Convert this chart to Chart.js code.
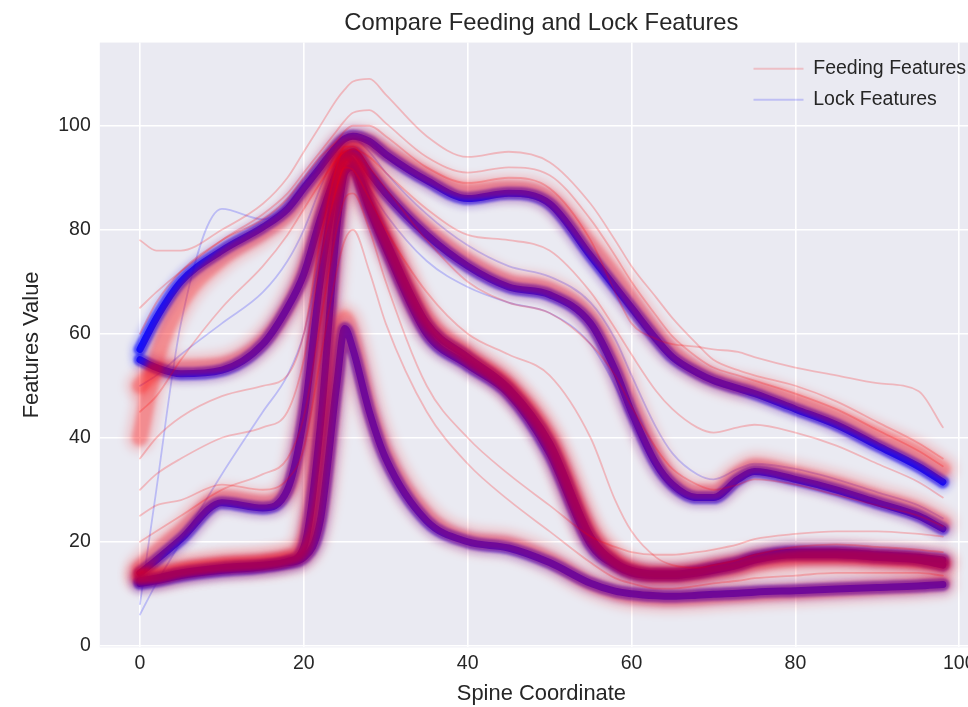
<!DOCTYPE html>
<html>
<head>
<meta charset="utf-8">
<script src="https://cdn.jsdelivr.net/npm/chart.js@4.4.0/dist/chart.umd.min.js"></script>
<style>
  html, body { margin: 0; padding: 0; background: #fff; overflow: hidden; }
</style>
</head>
<body>
<canvas id="featureChart" width="1000" height="707"></canvas>
<script>
// spine coordinate of every sample
const spineCoords = [0, 2, 5, 10, 15, 18, 20, 22, 24, 25, 26, 28, 30, 35, 40, 45, 50, 55, 58, 60, 63, 65, 68, 70, 73, 75, 80, 85, 90, 95, 98];

// lock features (blue bundles)
const lockUpper = [57, 63, 70, 76, 80.5, 84, 88, 92, 96, 97.5, 98, 97, 94.5, 89.5, 86, 87, 85, 75, 69, 65, 59, 55.5, 52.5, 51, 49.5, 48.5, 45.5, 42.5, 38.5, 34.5, 31.5];
const lockDip = [55, 53.5, 52.3, 53, 58, 65, 71.5, 82, 91, 94, 95, 91, 87, 79, 73, 69, 67.5, 62, 53, 45, 35, 31, 28.5, 28.5, 32, 33.5, 32, 30, 27.5, 25, 22.5];
const lockHump = [14, 16.5, 20.5, 27.5, 26.5, 30, 44, 70, 89, 94, 93, 84, 76.5, 60, 54, 48.5, 37, 19.5, 15.5, 14, 13.5, 13.5, 14, 14.5, 15.5, 16.5, 17.5, 17.5, 17, 16.5, 15.5];
const lockLow = [12, 12.5, 13.5, 14.5, 15.2, 16.2, 19, 42, 80, 91, 92, 85, 78, 62, 55.5, 49.5, 39, 21, 16, 14.5, 13.8, 13.8, 14.3, 15, 16, 17, 18, 18, 17.5, 17, 16.5];
const lockPeak = [12.5, 13, 14, 15, 15.5, 16, 17, 24, 50, 61, 57, 45, 36, 24, 20, 18.8, 16, 12, 10.5, 10, 9.6, 9.5, 9.7, 9.9, 10.1, 10.3, 10.6, 10.9, 11.2, 11.5, 11.8];
const lockStray1 = [8, 30, 62, 84, 82, 85, 89, 92, 96, 97, 97.5, 97, 94, 89, 85.5, 86.5, 84.5, 74, 68, 64, 58, 55, 52, 50.5, 49, 48, 45, 42, 38, 34, 31];
const lockStray2 = [6, 12, 20, 33, 45, 52, 60, 75, 89, 93, 93, 88, 83, 74, 69, 66, 64, 58, 50, 43, 34, 30, 28, 28, 31.5, 33, 31.5, 29.5, 27, 24.5, 22];
const lockStray3 = [50, 52, 56, 62, 68, 74, 80, 88, 95, 97, 97.5, 95, 91, 83, 77, 73, 71, 66, 59, 52, 42, 37, 33, 32, 34, 35, 34, 32, 29.5, 27, 24.5];

// feeding features (red bundles)
const feedUpper = [40, 55, 66, 74.5, 79.5, 83, 87, 91, 95.5, 97, 97.5, 97, 95, 90.5, 87.5, 88, 86, 77, 71, 66.5, 60, 56.5, 53, 51.5, 50, 49.5, 47, 44, 40.5, 37, 34];
const feedDip = [50, 53, 53.5, 54, 58.5, 65, 72, 82.5, 91.5, 94.5, 95.5, 92, 88, 80, 74, 70, 68.5, 63, 54.5, 46.5, 36.5, 32, 29.5, 29.5, 33, 34.5, 33, 31, 28.5, 26, 23.5];
const feedHump = [15, 18, 22, 28.5, 27.5, 30, 43, 70, 89.5, 94, 93.5, 85, 77.5, 61, 55, 49.5, 38.5, 20.5, 16, 14.3, 13.5, 13.5, 13.8, 14.2, 15, 15.8, 16.8, 17, 16.8, 16.4, 15.8];
const feedLow = [13.5, 13.5, 14.5, 15.5, 16, 17, 20, 44, 81, 91.5, 92.5, 86, 79, 63, 56, 50, 40, 22, 16.5, 14.8, 14, 14, 14.5, 15.2, 16, 16.8, 17.5, 17.5, 17, 16.5, 16];
const feedPeak = [13, 13.5, 14.5, 15.5, 16, 16.5, 17.5, 26, 52, 63, 59, 46, 37, 25, 20.5, 19.5, 16.5, 12, 10.3, 9.6, 9.2, 9.1, 9.3, 9.5, 9.8, 10, 10.4, 10.8, 11.2, 11.6, 12];
const feedTop = [78, 76, 76, 80, 85, 90, 95, 100, 105, 107, 108.5, 109, 106, 98, 94, 95, 93, 85, 78, 73, 67, 63, 58, 55, 53, 52, 50, 47, 43, 39, 36];
const feedHigh = [65, 68, 72, 78, 83, 87, 91, 95, 99, 101, 102.5, 103, 100.5, 94, 91, 92, 90.5, 82, 75, 70, 63.5, 59.5, 55.5, 53.5, 52, 51, 48.5, 45.5, 41.5, 37.5, 34.5];
const feedMid = [45, 48, 55, 65, 73, 79, 84, 89, 93.5, 95, 95.5, 94, 91, 84, 79, 78, 76, 68, 61, 56, 49, 45.5, 42, 41, 42, 42.5, 41, 38.5, 35, 31.5, 28.5];
const feedSag = [30, 33, 36, 40, 42, 45, 55, 74, 88, 92, 91.5, 86, 80, 68, 60, 56, 52, 40, 28, 22, 17, 15.5, 15, 15.5, 16.5, 17.5, 19, 19.5, 19, 18.5, 18];
const feedLoose = [20, 22, 25, 30, 33, 36, 44, 62, 80, 86, 87, 80, 70, 50, 40, 33, 27, 21, 19, 18, 17.5, 17.5, 18, 18.5, 19.5, 20.5, 21.5, 22, 22, 21.5, 21];
const feedStray = [60, 66, 72, 78, 82, 86, 90, 94, 97, 99, 100, 100, 98, 92, 89, 90, 88, 78, 68, 62, 59, 58, 57.5, 57, 56.5, 55.5, 53.5, 52, 50.5, 49, 42];
const feedDrift = [36, 40, 44, 48, 50, 52, 60, 78, 92, 96, 96, 92, 88, 78, 70, 66, 64, 58, 52, 46, 38, 34, 31, 30, 31, 32, 31, 29, 27, 25, 23];
const feedDrop = [25, 27, 28, 31, 30, 32, 38, 55, 72, 78, 80, 72, 62, 45, 35, 28, 22, 16, 13, 12, 11, 11, 11.5, 12, 12.5, 13, 13.5, 14, 14, 14, 13.5];

const xTicks = [0, 20, 40, 60, 80, 100];
const yTicks = [0, 20, 40, 60, 80, 100];

const feedBundles = [feedUpper, feedDip, feedHump, feedLow, feedPeak];
const feedThin = [feedTop, feedHigh, feedMid, feedSag, feedLoose, feedStray, feedDrift, feedDrop];
const lockBundles = [lockUpper, lockDip, lockHump, lockLow, lockPeak];
const lockThin = [lockStray1, lockStray2, lockStray3];

const RED = '255,0,0';
const BLUE = '0,0,255';
const TEXT = '#262626';
Chart.defaults.font.family = "'Liberation Sans', Arial, sans-serif";
Chart.defaults.color = TEXT;

function toPoints(values) {
    return values.map((v, i) => ({ x: spineCoords[i], y: v }));
}

function lineSet(label, values, rgb, width, alpha, blur) {
    return {
        label: label,
        data: toPoints(values),
        borderColor: `rgba(${rgb},${alpha})`,
        borderWidth: width,
        pointRadius: 0,
        fill: false,
        cubicInterpolationMode: 'monotone',
        borderJoinStyle: 'round',
        borderCapStyle: 'round',
        haloBlur: blur || 0
    };
}

const datasets = [];
// feeding first, lock on top
feedBundles.forEach(v => datasets.push(lineSet('Feeding Features', v, RED, 28, 0.17, 5)));
feedThin.forEach(v => datasets.push(lineSet('Feeding Features', v, RED, 1.8, 0.22)));
feedBundles.forEach(v => datasets.push(lineSet('Feeding Features', v, RED, 16, 0.28, 2)));
lockBundles.forEach(v => datasets.push(lineSet('Lock Features', v, BLUE, 20, 0.18, 3)));
lockThin.forEach(v => datasets.push(lineSet('Lock Features', v, BLUE, 1.8, 0.2)));
lockBundles.forEach(v => datasets.push(lineSet('Lock Features', v, BLUE, 13, 0.55, 1)));
lockBundles.forEach(v => datasets.push(lineSet('Lock Features', v, BLUE, 7, 0.8)));

const plotBackground = {
    id: 'plotBackground',
    beforeDraw(chart) {
        const { ctx, chartArea: a } = chart;
        ctx.save();
        ctx.fillStyle = '#EAEAF2';
        ctx.fillRect(a.left, a.top, a.right - a.left, a.bottom - a.top);
        ctx.restore();
    }
};

// soften the wide strokes so the bundles look like many faint lines
const softHalo = {
    id: 'softHalo',
    beforeDatasetDraw(chart, args) {
        const blur = chart.data.datasets[args.index].haloBlur;
        chart.ctx.save();
        if (blur) chart.ctx.filter = `blur(${blur}px)`;
    },
    afterDatasetDraw(chart) {
        chart.ctx.restore();
    }
};

// move the chartArea legend to the upper right corner of the axes
const legendUpperRight = {
    id: 'legendUpperRight',
    afterLayout(chart) {
        const lg = chart.legend;
        const a = chart.chartArea;
        const w = lg.width;
        lg.left = a.right - 241;
        lg.right = lg.left + w;
        lg.top = a.top + 5;
    }
};

new Chart(document.getElementById('featureChart'), {
    type: 'line',
    data: { datasets: datasets },
    plugins: [plotBackground, softHalo, legendUpperRight],
    options: {
        responsive: false,
        animation: false,
        layout: { padding: { left: 19, right: 17, top: 0, bottom: 0 } },
        plugins: {
            title: {
                display: true,
                text: 'Compare Feeding and Lock Features',
                fullSize: false,
                color: TEXT,
                font: { size: 23.8, weight: 'normal' },
                padding: { top: 9, bottom: 5 }
            },
            legend: {
                position: 'chartArea',
                align: 'start',
                labels: {
                    usePointStyle: true,
                    pointStyleWidth: 50,
                    padding: 11.5,
                    color: TEXT,
                    font: { size: 19.5 },
                    generateLabels: () => [
                        { text: 'Feeding Features', strokeStyle: `rgba(${RED},0.18)`, fillStyle: `rgba(${RED},0.18)`, lineWidth: 2, pointStyle: 'line', fontColor: TEXT, hidden: false, datasetIndex: 0 },
                        { text: 'Lock Features', strokeStyle: `rgba(${BLUE},0.18)`, fillStyle: `rgba(${BLUE},0.18)`, lineWidth: 2, pointStyle: 'line', fontColor: TEXT, hidden: false, datasetIndex: datasets.length - 1 }
                    ]
                }
            },
            tooltip: { enabled: false }
        },
        scales: {
            x: {
                type: 'linear',
                min: -4.9,
                max: 102.9,
                afterBuildTicks: scale => { scale.ticks = xTicks.map(v => ({ value: v })); },
                ticks: { color: TEXT, font: { size: 19.5 }, padding: 5 },
                grid: { color: '#ffffff', lineWidth: 1.6, drawTicks: false },
                border: { display: false },
                title: {
                    display: true,
                    text: 'Spine Coordinate',
                    color: TEXT,
                    font: { size: 21.9 },
                    padding: { top: 0, bottom: 0 }
                }
            },
            y: {
                min: -0.3,
                max: 116,
                afterBuildTicks: scale => { scale.ticks = yTicks.map(v => ({ value: v })); },
                ticks: { color: TEXT, font: { size: 19.5 }, padding: 9 },
                grid: { color: '#ffffff', lineWidth: 1.6, drawTicks: false },
                border: { display: false },
                title: {
                    display: true,
                    text: 'Features Value',
                    color: TEXT,
                    font: { size: 21.9 },
                    padding: { top: 0, bottom: 4 }
                }
            }
        }
    }
});
</script>
</body>
</html>
